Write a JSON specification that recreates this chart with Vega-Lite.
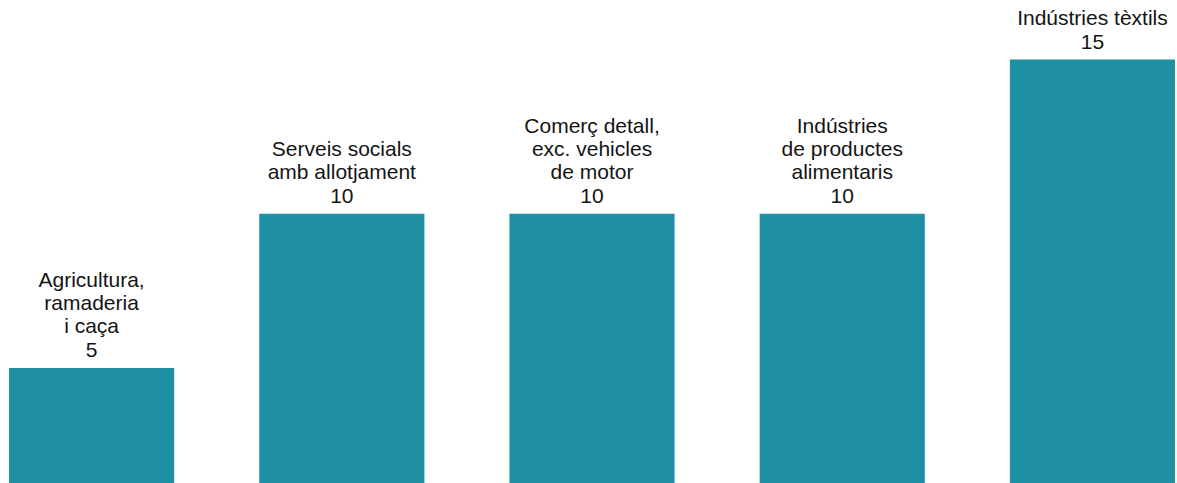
{
  "$schema": "https://vega.github.io/schema/vega-lite/v6.json",
  "autosize": {"type": "none"},
  "width": 1177,
  "height": 483,
  "padding": 0,
  "background": "white",
  "config": {"view": {"stroke": null}, "font": "Liberation Sans"},
  "data": {
    "values": [
      {"sector": "Agricultura, ramaderia i caça", "line3": "Agricultura,", "line2": "ramaderia", "line1": "i caça", "value": 5},
      {"sector": "Serveis socials amb allotjament", "line3": "", "line2": "Serveis socials", "line1": "amb allotjament", "value": 10},
      {"sector": "Comerç detall, exc. vehicles de motor", "line3": "Comerç detall,", "line2": "exc. vehicles", "line1": "de motor", "value": 10},
      {"sector": "Indústries de productes alimentaris", "line3": "Indústries", "line2": "de productes", "line1": "alimentaris", "value": 10},
      {"sector": "Indústries tèxtils", "line3": "", "line2": "", "line1": "Indústries tèxtils", "value": 15}
    ]
  },
  "encoding": {
    "x": {
      "field": "sector", "type": "nominal", "sort": null, "axis": null,
      "scale": {"paddingInner": 0.34, "paddingOuter": 0.022, "align": 0.82}
    },
    "y": {
      "field": "value", "type": "quantitative", "axis": null,
      "scale": {"domain": [1.27, 16.93], "zero": false, "nice": false}
    }
  },
  "layer": [
    {"mark": {"type": "bar", "color": "#1f8fa3", "clip": true}},
    {"mark": {"type": "text", "fontSize": 21, "color": "#141414", "baseline": "alphabetic", "dy": -11}, "encoding": {"text": {"field": "value", "type": "quantitative"}}},
    {"mark": {"type": "text", "fontSize": 21, "color": "#141414", "baseline": "alphabetic", "dy": -35}, "encoding": {"text": {"field": "line1", "type": "nominal"}}},
    {"mark": {"type": "text", "fontSize": 21, "color": "#141414", "baseline": "alphabetic", "dy": -58}, "encoding": {"text": {"field": "line2", "type": "nominal"}}},
    {"mark": {"type": "text", "fontSize": 21, "color": "#141414", "baseline": "alphabetic", "dy": -81}, "encoding": {"text": {"field": "line3", "type": "nominal"}}}
  ]
}
